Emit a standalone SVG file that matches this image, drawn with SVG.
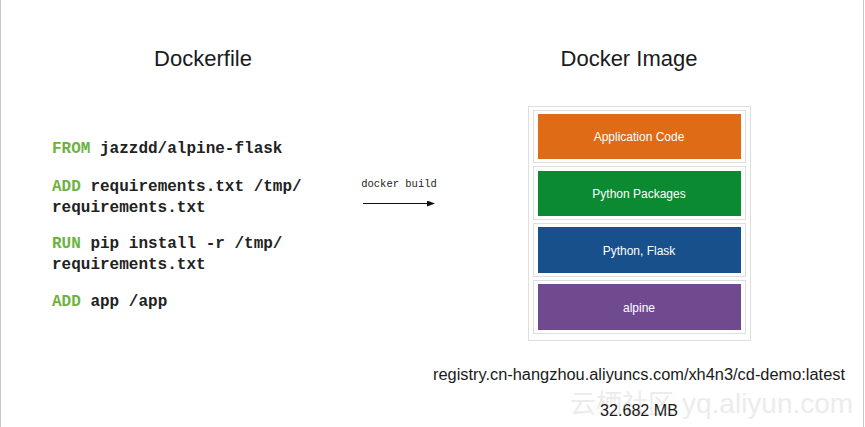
<svg xmlns="http://www.w3.org/2000/svg" width="865" height="427" viewBox="0 0 865 427">
<defs>
<style>
.title{font-family:"Liberation Sans",Arial,sans-serif;font-size:22px;fill:#1a1a1a;text-anchor:middle}
.code{font-family:"Liberation Mono","Courier New",monospace;font-size:16px;font-weight:bold;fill:#222}
.kw{fill:#6db33f}
.dot{fill:none;stroke:#bdbdbd;stroke-width:1;stroke-dasharray:1 1}
.lbl{font-family:"Liberation Sans",Arial,sans-serif;font-size:12px;fill:#fff;text-anchor:middle}
.info{font-family:"Liberation Sans",Arial,sans-serif;fill:#1a1a1a}
</style>
<marker id="ah" markerWidth="8" markerHeight="6" refX="7" refY="3" orient="auto" markerUnits="userSpaceOnUse">
<path d="M0,0 L8,3 L0,6 Z" fill="#111"/>
</marker>
</defs>
<rect width="865" height="427" fill="#fff"/>
<line x1="0.5" y1="0" x2="0.5" y2="427" stroke="#c8c8c8"/>
<line x1="863.5" y1="0" x2="863.5" y2="427" stroke="#c8c8c8"/>
<text x="570" y="413" font-family="'Noto Sans CJK SC',sans-serif" font-size="26" fill="#ececec">云栖社区</text>
<text x="682" y="413" font-family="'Liberation Sans',Arial,sans-serif" font-size="28" fill="#ececec">yq.aliyun.com</text>
<g id="dockerfile">
<text class="title" x="203" y="66">Dockerfile</text>
<text class="code" x="52" y="153"><tspan class="kw">FROM</tspan> jazzdd/alpine-flask</text>
<text class="code" x="52" y="191"><tspan class="kw">ADD</tspan> requirements.txt /tmp/</text>
<text class="code" x="52" y="212">requirements.txt</text>
<text class="code" x="52" y="248"><tspan class="kw">RUN</tspan> pip install -r /tmp/</text>
<text class="code" x="52" y="269">requirements.txt</text>
<text class="code" x="52" y="306"><tspan class="kw">ADD</tspan> app /app</text>
</g>
<g id="connectors">
<text x="399" y="187" font-family="'Liberation Mono','Courier New',monospace" font-size="10.5" fill="#222" text-anchor="middle">docker build</text>
<line x1="363" y1="203.5" x2="434" y2="203.5" stroke="#111" stroke-width="1" marker-end="url(#ah)"/>
</g>
<g id="docker-image">
<text class="title" x="629" y="66">Docker Image</text>
<rect class="dot" x="528.5" y="106.5" width="222" height="234"/>
</g>
<g id="layer-app">
<rect class="dot" x="533.5" y="110.5" width="212" height="52"/>
<rect x="538" y="114" width="203" height="45" fill="#e06b16"/>
<text class="lbl" x="639" y="141">Application Code</text>
</g>
<g id="layer-packages">
<rect class="dot" x="533.5" y="166.5" width="212" height="53"/>
<rect x="538" y="171" width="203" height="45" fill="#0b8a32"/>
<text class="lbl" x="639" y="198">Python Packages</text>
</g>
<g id="layer-python">
<rect class="dot" x="533.5" y="223.5" width="212" height="53"/>
<rect x="538" y="227" width="203" height="46" fill="#17508a"/>
<text class="lbl" x="639" y="255">Python, Flask</text>
</g>
<g id="layer-alpine">
<rect class="dot" x="533.5" y="280.5" width="212" height="53"/>
<rect x="538" y="284" width="203" height="46" fill="#6f4a8f"/>
<text class="lbl" x="639" y="312">alpine</text>
</g>
<g id="info">
<text class="info" x="433" y="380" font-size="16" textLength="412" lengthAdjust="spacingAndGlyphs">registry.cn-hangzhou.aliyuncs.com/xh4n3/cd-demo:latest</text>
<text class="info" x="600" y="416" font-size="16" textLength="78" lengthAdjust="spacingAndGlyphs">32.682 MB</text>
</g>
</svg>
